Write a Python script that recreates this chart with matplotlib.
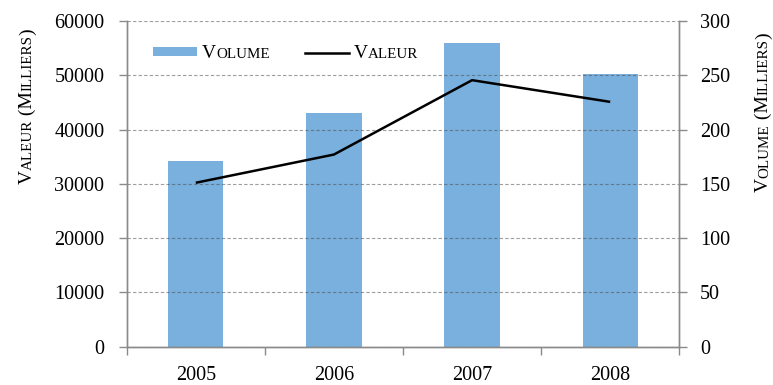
import matplotlib
matplotlib.use("Agg")
import matplotlib.pyplot as plt
from matplotlib.transforms import IdentityTransform
from matplotlib.patches import Rectangle
from matplotlib.lines import Line2D

# Data
years = ["2005", "2006", "2007", "2008"]
volume = [171, 215, 280, 251]          # milliers (right axis)
valeur = [30200, 35400, 49100, 45100]  # milliers (left axis)

BLUE = "#7AB0DD"
GREY = "#8A8A8A"
plt.rcParams["font.family"] = ["Liberation Serif", "DejaVu Serif"]

W, H = 773, 385
fig = plt.figure(figsize=(W / 100, H / 100), dpi=100)


def fx(px):
    return px / W


def fy(py):
    return 1 - py / H


left, right, top, bottom = 126.7, 679.3, 21.0, 346.7
ax = fig.add_axes([fx(left), fy(bottom), fx(right - left), (bottom - top) / H])
axv = ax.twinx()

xpos = list(range(len(years)))

# Volume bars on the primary axes, ticks shown on the right
ax.bar(xpos, volume, width=0.4, color=BLUE, zorder=1)
ax.set_ylim(0, 300)
ax.set_xlim(-0.5, len(years) - 0.5)
ax.yaxis.tick_right()
ax.set_yticks(range(0, 301, 50))

# Valeur line on the twin, ticks shown on the left, with the dashed grid
axv.patch.set_visible(False)
axv.set_ylim(0, 60000)
axv.yaxis.tick_left()
axv.set_yticks(range(0, 60001, 10000))
axv.yaxis.grid(True, color="#4d4d4d", alpha=0.55, linestyle=(0, (3, 2)), linewidth=0.8)
axv.plot(xpos, valeur, color="black", linewidth=1.8, solid_capstyle="butt", zorder=3)

# x axis: ticks between categories, labels at the centres
ax.set_xticks([i - 0.5 for i in range(len(years) + 1)])
ax.set_xticklabels([])
ax.set_xticks(xpos, minor=True)
ax.set_xticklabels(years, minor=True)
ax.tick_params(axis="x", which="major", direction="out", length=6, color=GREY, width=1)
ax.tick_params(axis="x", which="minor", length=0, pad=14, labelsize=14.5)

ax.tick_params(axis="y", direction="out", length=6, color=GREY, width=1, pad=9, labelsize=14.5)
axv.tick_params(axis="y", direction="out", length=6, color=GREY, width=1, pad=10, labelsize=14.5)

for a in (ax, axv):
    a.spines["top"].set_visible(False)
    for s in ("left", "right", "bottom"):
        a.spines[s].set_color(GREY)
        a.spines[s].set_linewidth(1)

BIG, SMALL = 14, 10.8


def small_caps(x, y, parts, rotation=0, center=False):
    """Draw text made of (string, size) pieces one after another, in pixels."""
    renderer = fig.canvas.get_renderer()
    texts, lengths = [], []
    for s, size in parts:
        t = fig.text(0, 0, s, transform=IdentityTransform(), rotation=rotation,
                     rotation_mode="anchor", ha="left", va="baseline", fontsize=size)
        bb = t.get_window_extent(renderer)
        texts.append(t)
        lengths.append(bb.height if rotation == 90 else bb.width)
    total = sum(lengths)
    if rotation == 90:
        pos = y - total / 2 if center else y
    else:
        pos = x - total / 2 if center else x
    for t, ln in zip(texts, lengths):
        if rotation == 90:
            t.set_position((x, pos))
        else:
            t.set_position((pos, y))
        pos += ln


def label_parts(word):
    return [(word[0], BIG), (word[1:], SMALL), (" (M", BIG), ("ILLIERS", SMALL), (")", BIG)]


# Axis titles (display pixel coordinates, origin bottom-left)
small_caps(32, H - 106.5, label_parts("VALEUR"), rotation=90, center=True)
small_caps(768, H - 112, label_parts("VOLUME"), rotation=90, center=True)

# Legend
fig.add_artist(Rectangle((fx(153), fy(56)), fx(44), 9 / H, transform=fig.transFigure,
                         facecolor=BLUE, edgecolor="none"))
fig.add_artist(Line2D([fx(305), fx(349)], [fy(52.5), fy(52.5)], transform=fig.transFigure,
                      color="black", linewidth=1.8))
small_caps(202, H - 58, [("V", BIG), ("OLUME", SMALL)])
small_caps(354, H - 58, [("V", BIG), ("ALEUR", SMALL)])

fig.savefig("out.png", dpi=100)
